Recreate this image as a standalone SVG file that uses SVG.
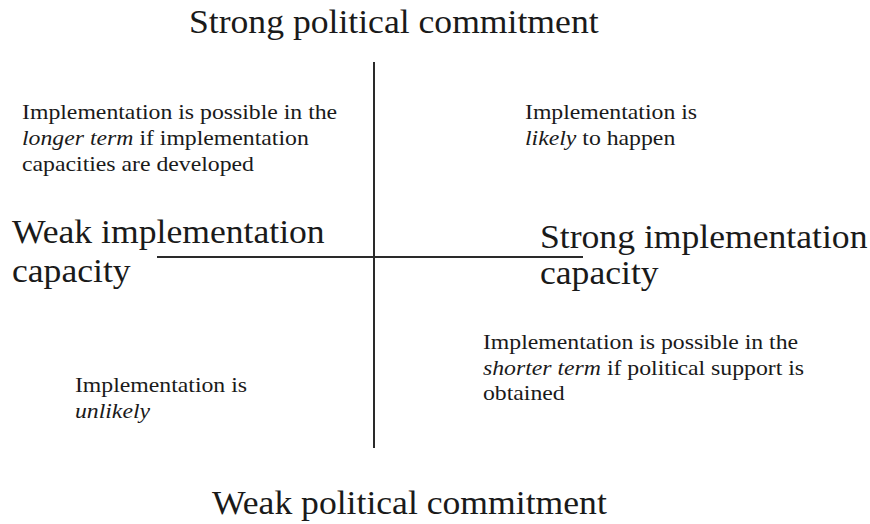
<svg xmlns="http://www.w3.org/2000/svg" width="870" height="524" viewBox="0 0 870 524">
  <style>
    text { font-family: "Liberation Serif", "Times New Roman", serif; fill: #1a1a1a; }
    .axis { font-size: 33px; }
    .note { font-size: 22px; }
    .em { font-style: italic; }
    .rule { stroke: #2a2a2a; stroke-width: 2; fill: none; }
  </style>
  <rect width="870" height="524" fill="#ffffff"/>

  <!-- quadrant axes -->
  <g id="connectors">
    <line class="rule" x1="374" y1="62" x2="374" y2="448"/>
    <line class="rule" x1="157" y1="257" x2="583" y2="257"/>
  </g>

  <!-- type is set slightly wide: x coordinates below are divided by 1.08 -->
  <g transform="scale(1.08 1)">
    <g id="top-label">
      <text class="axis" x="175" y="33">Strong political commitment</text>
    </g>
    <g id="bottom-label">
      <text class="axis" x="196.3" y="514">Weak political commitment</text>
    </g>
    <g id="left-label">
      <text class="axis" x="11.1" y="243">Weak implementation</text>
      <text class="axis" x="11.1" y="282">capacity</text>
    </g>
    <g id="right-label">
      <text class="axis" x="500" y="248">Strong implementation</text>
      <text class="axis" x="500" y="284">capacity</text>
    </g>
    <g id="quadrant-top-left">
      <text class="note" x="20.4" y="119">Implementation is possible in the</text>
      <text class="note" x="20.4" y="145"><tspan class="em">longer term</tspan> if implementation</text>
      <text class="note" x="20.4" y="171">capacities are developed</text>
    </g>
    <g id="quadrant-top-right">
      <text class="note" x="486.1" y="119">Implementation is</text>
      <text class="note" x="486.1" y="145"><tspan class="em">likely</tspan> to happen</text>
    </g>
    <g id="quadrant-bottom-right">
      <text class="note" x="447.2" y="349">Implementation is possible in the</text>
      <text class="note" x="447.2" y="375"><tspan class="em">shorter term</tspan> if political support is</text>
      <text class="note" x="447.2" y="400">obtained</text>
    </g>
    <g id="quadrant-bottom-left">
      <text class="note" x="69.4" y="392">Implementation is</text>
      <text class="note" x="69.4" y="418"><tspan class="em">unlikely</tspan></text>
    </g>
  </g>
</svg>
